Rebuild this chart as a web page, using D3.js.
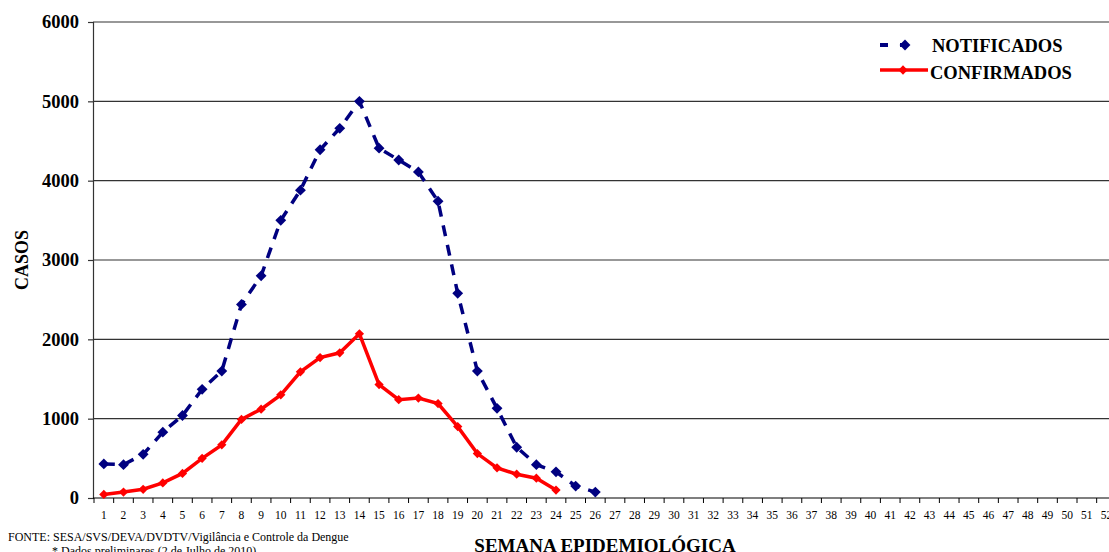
<!DOCTYPE html>
<html>
<head>
<meta charset="utf-8">
<script src="https://cdn.jsdelivr.net/npm/d3@7"></script>
<style>
  body { margin: 0; background: #fff; }
  svg text { font-family: "Liberation Serif", "Times New Roman", serif; }
</style>
</head>
<body>
<svg id="chart"></svg>
<script>
const weeks = d3.range(1, 53)
const notificados = [430, 420, 550, 830, 1040, 1370, 1600, 2440, 2800, 3500, 3880, 4390, 4660, 5000,
  4410, 4260, 4110, 3740, 2580, 1600, 1130, 640, 420, 330, 150, 75]
const confirmados = [45, 75, 110, 190, 310, 500, 670, 990, 1120, 1300, 1590, 1770, 1830, 2070,
  1430, 1240, 1260, 1190, 900, 560, 380, 300, 250, 100]
const yTicks = [0, 1000, 2000, 3000, 4000, 5000, 6000]

const width = 1109
const height = 552
const serif = '"Liberation Serif", "Times New Roman", serif'
const svg = d3.select('svg#chart')
  .attr('width', width)
  .attr('height', height)
  .attr('font-family', serif)

const plotLeft = 93, plotTop = 22, plotBottom = 498
const step = 19.66

const x = d3.scaleBand()
  .domain(weeks)
  .range([plotLeft + 1, plotLeft + 1 + step * weeks.length])

const y = d3.scaleLinear()
  .domain([0, 6000])
  .range([plotBottom, plotTop])

// gridlines
svg.append('g')
  .selectAll('line')
  .data(yTicks.filter(d => d > 0))
  .enter().append('line')
  .attr('x1', plotLeft)
  .attr('x2', width)
  .attr('y1', d => y(d))
  .attr('y2', d => y(d))
  .attr('stroke', '#333')
  .attr('stroke-width', 1.2)

// y axis
const yAxis = svg.append('g')
  .attr('transform', `translate(${plotLeft},0)`)
  .call(d3.axisLeft(y).tickValues(yTicks).tickSize(5).tickPadding(9).tickFormat(d3.format('d')))
  .attr('font-family', serif)
yAxis.select('.domain').attr('stroke', '#333').attr('stroke-width', 1.2)
yAxis.selectAll('.tick line').attr('stroke', '#333').attr('stroke-width', 1.2)
yAxis.selectAll('text')
  .attr('font-size', 18.5)
  .attr('font-weight', 'bold')
  .attr('fill', '#000')

// x axis
const xAxis = svg.append('g')
  .attr('transform', `translate(0,${plotBottom})`)
  .call(d3.axisBottom(x).tickSize(0).tickPadding(13))
  .attr('font-family', serif)
xAxis.select('.domain').remove()
xAxis.append('line')
  .attr('x1', plotLeft).attr('x2', width)
  .attr('stroke', '#000').attr('stroke-width', 1.2)
xAxis.selectAll('.tick text')
  .attr('font-size', 11.5)
  .attr('fill', '#000')
xAxis.selectAll('.sep')
  .data(weeks)
  .enter().append('line')
  .attr('x1', d => x(d))
  .attr('x2', d => x(d))
  .attr('y1', 0)
  .attr('y2', 5)
  .attr('stroke', '#000')
  .attr('stroke-width', 1)

const cx = (d, i) => x(weeks[i]) + x.bandwidth() / 2
const line = d3.line().x(cx).y(d => y(d))
const diamond = d3.symbol().type(d3.symbolDiamond2 || d3.symbolDiamond)

// notificados
svg.append('path')
  .datum(notificados)
  .attr('d', line)
  .attr('fill', 'none')
  .attr('stroke', '#000080')
  .attr('stroke-width', 3.5)
  .attr('stroke-dasharray', '11,9')
svg.append('g')
  .selectAll('path')
  .data(notificados)
  .enter().append('path')
  .attr('d', diamond.size(75))
  .attr('transform', (d, i) => `translate(${cx(d, i)},${y(d)})`)
  .attr('fill', '#000080')

// confirmados
svg.append('path')
  .datum(confirmados)
  .attr('d', line)
  .attr('fill', 'none')
  .attr('stroke', '#ff0000')
  .attr('stroke-width', 3.5)
svg.append('g')
  .selectAll('path')
  .data(confirmados)
  .enter().append('path')
  .attr('d', diamond.size(55))
  .attr('transform', (d, i) => `translate(${cx(d, i)},${y(d)})`)
  .attr('fill', '#ff0000')

// legend
const legend = svg.append('g').attr('transform', 'translate(880,0)')
legend.append('line')
  .attr('x1', 0).attr('x2', 36).attr('y1', 45).attr('y2', 45)
  .attr('stroke', '#000080').attr('stroke-width', 4).attr('stroke-dasharray', '8,12')
legend.append('path').attr('d', diamond.size(75)).attr('transform', 'translate(25,45)').attr('fill', '#000080')
legend.append('text').attr('x', 52).attr('y', 52).text('NOTIFICADOS')
legend.append('line')
  .attr('x1', 0).attr('x2', 48).attr('y1', 70).attr('y2', 70)
  .attr('stroke', '#ff0000').attr('stroke-width', 3.5)
legend.append('path').attr('d', diamond.size(55)).attr('transform', 'translate(23,70)').attr('fill', '#ff0000')
legend.append('text').attr('x', 50).attr('y', 79).text('CONFIRMADOS')
legend.selectAll('text')
  .attr('font-size', 18.5)
  .attr('font-weight', 'bold')

// titles
svg.append('text')
  .attr('transform', 'translate(28,260) rotate(-90)')
  .attr('text-anchor', 'middle')
  .attr('font-size', 18)
  .attr('font-weight', 'bold')
  .text('CASOS')

svg.append('text')
  .attr('x', 605)
  .attr('y', 552)
  .attr('text-anchor', 'middle')
  .attr('font-size', 19)
  .attr('font-weight', 'bold')
  .text('SEMANA EPIDEMIOLÓGICA')

svg.append('text')
  .attr('x', 8)
  .attr('y', 541)
  .attr('font-size', 12)
  .text('FONTE: SESA/SVS/DEVA/DVDTV/Vigilância e Controle da Dengue')

svg.append('text')
  .attr('x', 52)
  .attr('y', 555)
  .attr('font-size', 12)
  .text('*  Dados preliminares (2 de Julho de 2010)')
</script>
</body>
</html>
